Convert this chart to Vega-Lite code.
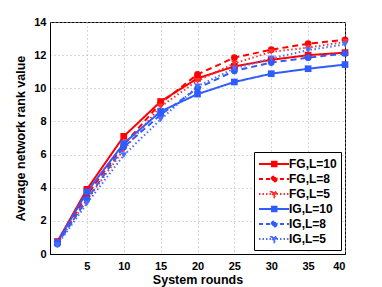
{
  "$schema": "https://vega.github.io/schema/vega-lite/v6.json",
  "width": 295,
  "height": 232,
  "autosize": "none",
  "padding": {"left": 50, "top": 22, "right": 37, "bottom": 33},
  "background": "white",
  "config": {
    "view": {"stroke": "black", "strokeWidth": 1},
    "font": "Liberation Sans",
    "axis": {
      "labelFont": "Liberation Sans",
      "labelFontWeight": "bold",
      "labelFontSize": 11,
      "labelColor": "black",
      "titleFont": "Liberation Sans",
      "titleFontWeight": "bold",
      "titleFontSize": 12.5,
      "titleColor": "black",
      "domainColor": "black",
      "tickColor": "black",
      "gridColor": "#b0b0b0",
      "gridDash": [1, 3],
      "gridWidth": 1
    }
  },
  "data": {
    "values": [
      {"x": 1, "G": "FG", "L": 10, "s": "FG,L=10", "v": 0.75}, {"x": 5, "G": "FG", "L": 10, "s": "FG,L=10", "v": 3.9}, {"x": 10, "G": "FG", "L": 10, "s": "FG,L=10", "v": 7.1}, {"x": 15, "G": "FG", "L": 10, "s": "FG,L=10", "v": 9.2}, {"x": 20, "G": "FG", "L": 10, "s": "FG,L=10", "v": 10.6}, {"x": 25, "G": "FG", "L": 10, "s": "FG,L=10", "v": 11.32}, {"x": 30, "G": "FG", "L": 10, "s": "FG,L=10", "v": 11.72}, {"x": 35, "G": "FG", "L": 10, "s": "FG,L=10", "v": 12.0}, {"x": 40, "G": "FG", "L": 10, "s": "FG,L=10", "v": 12.15},
      {"x": 1, "G": "FG", "L": 8, "s": "FG,L=8", "v": 0.7}, {"x": 5, "G": "FG", "L": 8, "s": "FG,L=8", "v": 3.55}, {"x": 10, "G": "FG", "L": 8, "s": "FG,L=8", "v": 6.6}, {"x": 15, "G": "FG", "L": 8, "s": "FG,L=8", "v": 9.1}, {"x": 20, "G": "FG", "L": 8, "s": "FG,L=8", "v": 10.84}, {"x": 25, "G": "FG", "L": 8, "s": "FG,L=8", "v": 11.85}, {"x": 30, "G": "FG", "L": 8, "s": "FG,L=8", "v": 12.33}, {"x": 35, "G": "FG", "L": 8, "s": "FG,L=8", "v": 12.69}, {"x": 40, "G": "FG", "L": 8, "s": "FG,L=8", "v": 12.93},
      {"x": 1, "G": "FG", "L": 5, "s": "FG,L=5", "v": 0.65}, {"x": 5, "G": "FG", "L": 5, "s": "FG,L=5", "v": 3.25}, {"x": 10, "G": "FG", "L": 5, "s": "FG,L=5", "v": 6.3}, {"x": 15, "G": "FG", "L": 5, "s": "FG,L=5", "v": 8.9}, {"x": 20, "G": "FG", "L": 5, "s": "FG,L=5", "v": 10.45}, {"x": 25, "G": "FG", "L": 5, "s": "FG,L=5", "v": 11.5}, {"x": 30, "G": "FG", "L": 5, "s": "FG,L=5", "v": 12.2}, {"x": 35, "G": "FG", "L": 5, "s": "FG,L=5", "v": 12.45}, {"x": 40, "G": "FG", "L": 5, "s": "FG,L=5", "v": 12.8},
      {"x": 1, "G": "IG", "L": 10, "s": "IG,L=10", "v": 0.7}, {"x": 5, "G": "IG", "L": 10, "s": "IG,L=10", "v": 3.75}, {"x": 10, "G": "IG", "L": 10, "s": "IG,L=10", "v": 6.67}, {"x": 15, "G": "IG", "L": 10, "s": "IG,L=10", "v": 8.6}, {"x": 20, "G": "IG", "L": 10, "s": "IG,L=10", "v": 9.65}, {"x": 25, "G": "IG", "L": 10, "s": "IG,L=10", "v": 10.38}, {"x": 30, "G": "IG", "L": 10, "s": "IG,L=10", "v": 10.88}, {"x": 35, "G": "IG", "L": 10, "s": "IG,L=10", "v": 11.18}, {"x": 40, "G": "IG", "L": 10, "s": "IG,L=10", "v": 11.43},
      {"x": 1, "G": "IG", "L": 8, "s": "IG,L=8", "v": 0.6}, {"x": 5, "G": "IG", "L": 8, "s": "IG,L=8", "v": 3.3}, {"x": 10, "G": "IG", "L": 8, "s": "IG,L=8", "v": 6.46}, {"x": 15, "G": "IG", "L": 8, "s": "IG,L=8", "v": 8.4}, {"x": 20, "G": "IG", "L": 8, "s": "IG,L=8", "v": 10.0}, {"x": 25, "G": "IG", "L": 8, "s": "IG,L=8", "v": 11.05}, {"x": 30, "G": "IG", "L": 8, "s": "IG,L=8", "v": 11.55}, {"x": 35, "G": "IG", "L": 8, "s": "IG,L=8", "v": 11.85}, {"x": 40, "G": "IG", "L": 8, "s": "IG,L=8", "v": 12.1},
      {"x": 1, "G": "IG", "L": 5, "s": "IG,L=5", "v": 0.54}, {"x": 5, "G": "IG", "L": 5, "s": "IG,L=5", "v": 3.05}, {"x": 10, "G": "IG", "L": 5, "s": "IG,L=5", "v": 5.96}, {"x": 15, "G": "IG", "L": 5, "s": "IG,L=5", "v": 8.12}, {"x": 20, "G": "IG", "L": 5, "s": "IG,L=5", "v": 10.12}, {"x": 25, "G": "IG", "L": 5, "s": "IG,L=5", "v": 11.2}, {"x": 30, "G": "IG", "L": 5, "s": "IG,L=5", "v": 11.8}, {"x": 35, "G": "IG", "L": 5, "s": "IG,L=5", "v": 12.3}, {"x": 40, "G": "IG", "L": 5, "s": "IG,L=5", "v": 12.65}
    ]
  },
  "encoding": {
    "x": {
      "field": "x", "type": "quantitative",
      "scale": {"domain": [0, 40], "nice": false, "zero": false},
      "axis": {"title": "System rounds", "values": [5, 10, 15, 20, 25, 30, 35, 40], "tickSize": 0, "labelPadding": 6, "titlePadding": 2}
    },
    "y": {
      "field": "v", "type": "quantitative",
      "scale": {"domain": [0, 14], "nice": false},
      "axis": {"title": "Average network rank value", "values": [0, 2, 4, 6, 8, 10, 12, 14], "tickSize": 0, "labelPadding": 4, "titlePadding": 6}
    },
    "color": {
      "field": "s", "type": "nominal",
      "sort": ["FG,L=10", "FG,L=8", "FG,L=5", "IG,L=10", "IG,L=8", "IG,L=5"],
      "scale": {"domain": ["FG,L=10", "FG,L=8", "FG,L=5", "IG,L=10", "IG,L=8", "IG,L=5"], "range": ["#ff0000", "#ff0000", "#ff3030", "#2f5cff", "#2f5cff", "#4a6fff"]},
      "legend": {
        "title": null,
        "orient": "bottom-right",
        "offset": 4,
        "strokeColor": "black",
        "fillColor": "white",
        "padding": 4,
        "labelFont": "Liberation Sans",
        "labelFontWeight": "bold",
        "labelFontSize": 12,
        "labelColor": "black",
        "labelOffset": 15,
        "rowPadding": 0,
        "symbolStrokeWidth": 2,
        "symbolSize": 196,
        "encode": {
          "symbols": {
            "update": {
              "size": {"value": 196},
              "shape": {"signal": "indexof(datum.value, '=10') > 0 ? 'M-1,0H3.3M0.85,-0.33H1.5V0.33H0.85Z' : indexof(datum.value, '=8') > 0 ? 'M-1,0H3.3M1.52,0A0.35,0.35 0 1 1 0.82,0A0.35,0.35 0 1 1 1.52,0Z' : 'M-1,0H3.3M0.75,-0.3H1.6L1.17,0.42Z'"},
              "strokeDash": {"signal": "indexof(datum.value, '=10') > 0 ? [1, 0] : indexof(datum.value, '=8') > 0 ? [4, 3] : [1.5, 2]"},
              "fill": {"scale": "color", "field": "value"},
              "stroke": {"scale": "color", "field": "value"}
            }
          }
        }
      }
    }
  },
  "layer": [
    {
      "mark": {"type": "line", "strokeWidth": 2},
      "encoding": {
        "strokeDash": {
          "field": "L", "type": "nominal",
          "scale": {"domain": [10, 8, 5], "range": [[1, 0], [6, 4], [1.5, 2.5]]},
          "legend": null
        }
      }
    },
    {
      "mark": {"type": "point", "filled": true, "size": 45, "opacity": 1},
      "encoding": {
        "shape": {
          "field": "L", "type": "nominal",
          "scale": {"domain": [10, 8, 5], "range": ["square", "circle", "triangle-down"]},
          "legend": null
        }
      }
    }
  ]
}
